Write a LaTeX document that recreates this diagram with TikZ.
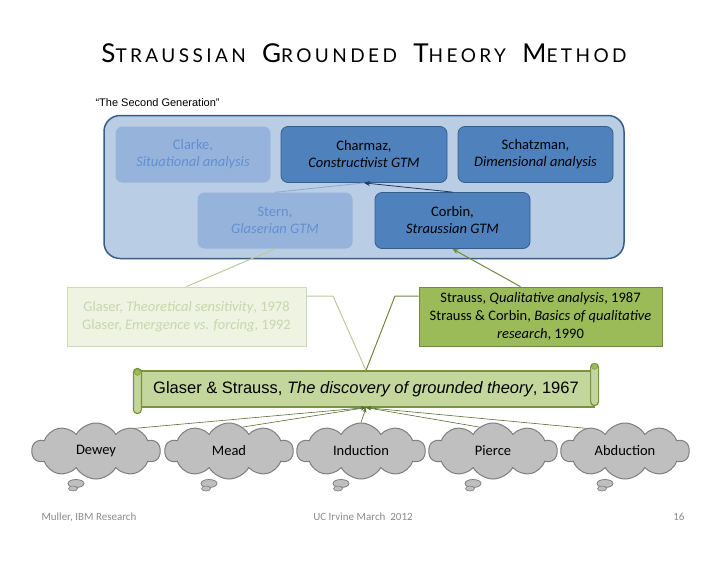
\documentclass[tikz,border=0pt]{standalone}
\usepackage{fontspec}
\setmainfont{Carlito}
\newfontfamily\arialfont{Liberation Sans}
\newfontfamily\titlefont[LetterSpace=18]{Lato}
\usetikzlibrary{shapes.symbols,arrows.meta}

\definecolor{frameblue}{RGB}{185,205,229}
\definecolor{borderblue}{RGB}{56,93,138}
\definecolor{darkblue}{RGB}{79,129,189}
\definecolor{fadeblue}{RGB}{150,180,219}
\definecolor{fadetext}{RGB}{98,143,210}
\definecolor{navy}{RGB}{31,56,100}
\definecolor{fadegreen}{RGB}{238,243,226}
\definecolor{fadegreenline}{RGB}{205,220,178}
\definecolor{fadegreentext}{RGB}{200,215,172}
\definecolor{olive}{RGB}{155,187,89}
\definecolor{oliveline}{RGB}{113,137,63}
\definecolor{scrollfill}{RGB}{195,214,155}
\definecolor{scrollline}{RGB}{119,147,60}
\definecolor{cloudfill}{RGB}{191,191,191}
\definecolor{cloudline}{RGB}{127,127,127}
\definecolor{footgray}{RGB}{140,140,140}

\newcommand{\tsc}[2]{{\fontsize{26}{26}\selectfont #1}{\fontsize{19}{19}\selectfont #2}}

\tikzset{
  gtmbox/.style={rounded corners=7pt, minimum width=155pt, minimum height=56pt,
    align=center, inner sep=2pt, font=\fontsize{14.5}{17}\selectfont},
  gtmdark/.style={gtmbox, fill=darkblue, draw=borderblue, line width=0.8pt},
  gtmfade/.style={gtmbox, fill=fadeblue, text=fadetext},
  bookbox/.style={minimum width=240pt, minimum height=59pt, align=center,
    inner sep=2pt, font=\fontsize{14.5}{18}\selectfont},
  thought/.style={cloud, cloud puffs=10, cloud puff arc=120, aspect=2.4,
    fill=cloudfill, draw=cloudline, line width=1pt, minimum width=128pt,
    minimum height=56pt, inner sep=0pt, font=\fontsize{14.5}{16}\selectfont},
  cloudarrow/.style={draw=oliveline!80!black, line width=0.6pt, -{Stealth[length=5pt,width=4pt]}},
  footer/.style={text=footgray, font=\fontsize{11}{13}\selectfont}
}

\begin{document}
\begin{tikzpicture}[x=1pt,y=-1pt]
\useasboundingbox[fill=white] (0,0) rectangle (728,563);

% title
\node[font=\titlefont] (title) at (364,53) {\tsc{S}{TRAUSSIAN}\hspace{12pt} \tsc{G}{ROUNDED}\hspace{12pt} \tsc{T}{HEORY}\hspace{12pt} \tsc{M}{ETHOD}};
\node[anchor=west, font=\arialfont\fontsize{11}{13}\selectfont] (gen) at (92,103) {“The Second Generation”};

% second generation frame
\node[rounded corners=16pt, fill=frameblue, draw=borderblue, line width=1.5pt,
  minimum width=520pt, minimum height=143pt] (frame) at (364,187) {};

\node[gtmfade] (clarke) at (193,154.5) {Clarke,\\\textit{Situational analysis}};
\node[gtmdark, minimum width=166pt] (charmaz) at (364,154.5) {Charmaz,\\\textit{Constructivist GTM}};
\node[gtmdark] (schatzman) at (535.5,154.5) {Schatzman,\\\textit{Dimensional analysis}};
\node[gtmfade] (stern) at (275,220.5) {Stern,\\\textit{Glaserian GTM}};
\node[gtmdark] (corbin) at (452.5,220.5) {Corbin,\\\textit{Straussian GTM}};

\draw[fadeblue!80!darkblue, line width=0.8pt] (stern.north) -- (charmaz.south);
\draw[navy, line width=0.8pt, -{Stealth[length=6pt,width=5pt]}] (corbin.north) -- (charmaz.south);

% books
\node[bookbox, fill=fadegreen, draw=fadegreenline, line width=0.8pt, text=fadegreentext,
  minimum width=239pt] (glaser) at (186.5,316.5)
  {Glaser, \textit{Theoretical sensitivity}, 1978\\Glaser, \textit{Emergence vs. forcing}, 1992};
\node[bookbox, fill=olive, draw=oliveline, line width=0.8pt, minimum width=243pt]
  (strauss) at (540.5,316.5)
  {Strauss, \textit{Qualitative analysis}, 1987\\Strauss \& Corbin, \textit{Basics of qualitative}\\\textit{research}, 1990};

\draw[fadegreenline!80!oliveline, line width=1pt] (glaser.north) -- (stern.south);
\draw[oliveline, line width=1pt, -{Stealth[length=6pt,width=5pt]}] ([xshift=-20pt]strauss.north) -- (corbin.south);

% the discovery scroll
\node[fill=scrollfill, draw=scrollline, line width=1.2pt, minimum width=456pt,
  minimum height=36pt, inner sep=0pt, font=\arialfont\fontsize{16.5}{18}\selectfont]
  (discovery) at (366,389) {Glaser \& Strauss, \textit{The discovery of grounded theory}, 1967};
\draw[fill=scrollfill, draw=scrollline, line width=1.2pt, rounded corners=4pt]
  ([shift={(-4,-2)}]discovery.north west) rectangle ([shift={(4,6)}]discovery.south west);
\draw[fill=scrollfill, draw=scrollline, line width=1.2pt, rounded corners=4pt]
  ([shift={(-4,-7)}]discovery.north east) rectangle ([shift={(4,-2)}]discovery.south east);
\fill[olive, draw=scrollline] ([shift={(0,2)}]discovery.north west) circle (3);
\fill[olive, draw=scrollline] ([shift={(0,-4)}]discovery.north east) circle (3);

\coordinate (lbend) at (333,296);
\coordinate (rbend) at (395,296);
\draw[fadegreenline!80!oliveline, line width=1pt] (discovery.north) -- (lbend) -- (lbend -| glaser.east);
\draw[oliveline, line width=1pt] (discovery.north) -- (rbend) -- (rbend -| strauss.west);

% roots
\foreach \name/\lbl/\x/\ang in {dewey/Dewey/96/30, mead/Mead/229/60, induction/Induction/361/90,
  pierce/Pierce/493/120, abduction/Abduction/625/150} {
  \node[thought] (\name) at (\x,451) {\lbl};
  \draw[fill=cloudfill, draw=cloudline, line width=0.8pt] ([shift={(-20,4)}]\name.south) ellipse (8 and 4);
  \draw[fill=cloudfill, draw=cloudline, line width=0.6pt] ([shift={(-23,9)}]\name.south) ellipse (4.5 and 2.5);
  \draw[cloudarrow] (\name.\ang) -- (discovery.south);
}

% footer
\node[footer, anchor=west] (author) at (38,517) {Muller, IBM Research};
\node[footer] (venue) at (363,517) {UC Irvine March~~2012};
\node[footer, anchor=east] (page) at (688,517) {16};
\end{tikzpicture}
\end{document}
